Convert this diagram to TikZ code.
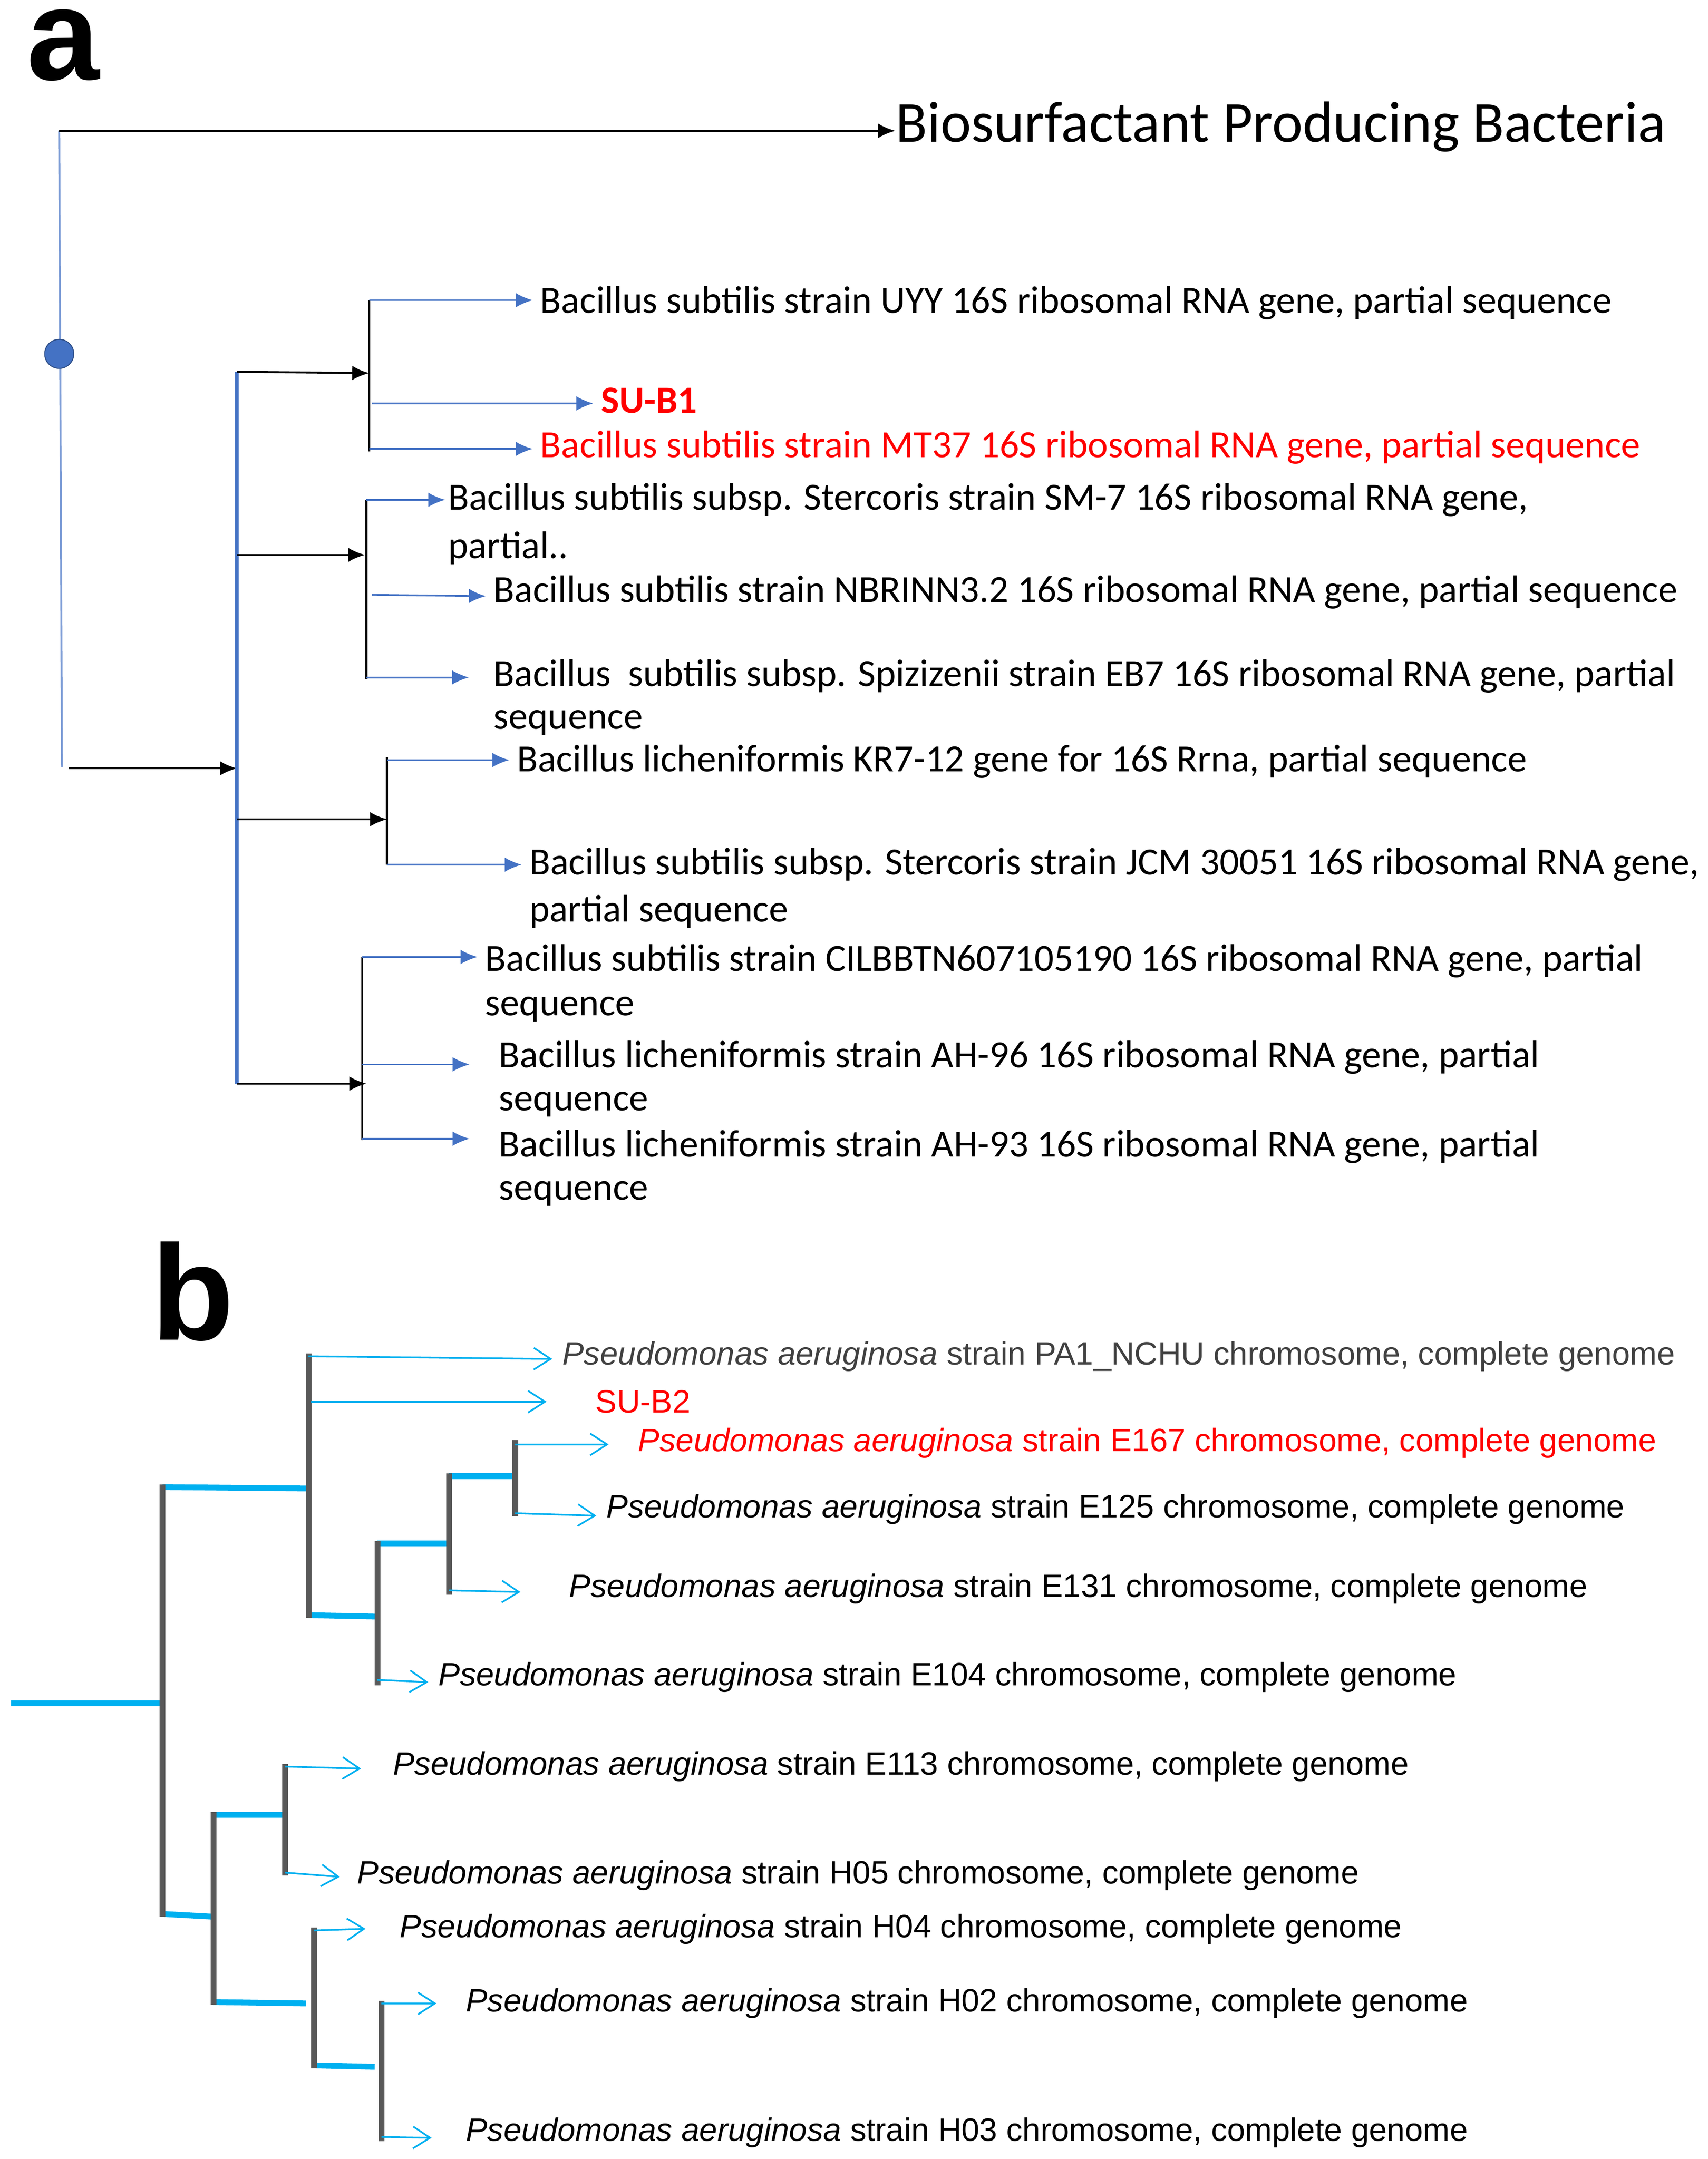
\documentclass[tikz,border=0pt]{standalone}
\usepackage{fontspec}
\setmainfont{Carlito}
\newfontfamily\arial{Liberation Sans}
\usetikzlibrary{arrows.meta}
\definecolor{ablue}{HTML}{4472C4}
\definecolor{bblue}{HTML}{00B0F0}
\definecolor{bgray}{HTML}{595959}
\definecolor{tgray}{HTML}{404040}
\begin{document}
\begin{tikzpicture}[x=0.02cm,y=-0.02cm,
 lbl/.style={anchor=west,inner sep=0pt,font=\fontsize{15.9}{18}\selectfont},
 blbl/.style={anchor=west,inner sep=0pt,font=\arial\fontsize{13.35}{15}\selectfont},
 aleaf/.style={ablue,line width=0.7pt,-{Latex[length=7pt,width=6pt]},shorten >=3pt},
 akey/.style={black,line width=0.8pt,-{Latex[length=7pt,width=6pt]}},
 bleaf/.style={bblue,line width=0.7pt,-{Straight Barb[length=7pt,width=9pt]},shorten >=4pt},
 gv/.style={bgray,line width=2.4pt},
 bh/.style={bblue,line width=2.4pt}]
\useasboundingbox (0,0) rectangle (1240,1568);
% labels
\node[font=\arial\bfseries\fontsize{54}{60}\selectfont,anchor=base,inner sep=0pt] (la) at (46,58) {a};
\node[font=\arial\bfseries\fontsize{56}{60}\selectfont,anchor=center] (lb) at (140,938) {b};
% panel a
\coordinate (r0) at (43,95); \coordinate (r1) at (45,557);
\draw[ablue!70,line width=0.8pt] (r0) -- (r1);
\node[circle,fill=ablue,draw=ablue!70!black,inner sep=0pt,minimum size=12pt] (dot) at (43,257) {};
\node[anchor=west,inner sep=0pt,font=\fontsize{24}{28}\selectfont] (title) at (650,92) {Biosurfactant Producing Bacteria};
\draw[akey] (r0) -- (title.west|-r0);
\coordinate (s0) at (50,558); \coordinate (bv) at (172,558);
\draw[akey] (s0) -- (bv);
\coordinate (bt) at (172,270); \coordinate (bb) at (172,787);
\draw[ablue,line width=1.6pt] (bt) -- (bb);
\coordinate (g1) at (268,271); \coordinate (g2) at (265,403); \coordinate (g3) at (281,595); \coordinate (g4) at (266,787);
\draw[akey] (bt) -- (g1); \draw[akey] (172,403) -- (g2); \draw[akey] (172,595) -- (g3); \draw[akey] (bb) -- (g4);
% group1
\draw[black,line width=0.9pt] (268,218) -- (268,328);
\node[lbl] (t1) at (392,220) {Bacillus subtilis strain UYY 16S ribosomal RNA gene, partial sequence};
\node[lbl,text=red,font=\bfseries\fontsize{15.9}{18}\selectfont] (t2) at (436,291) {SU-B1};
\node[lbl,text=red] (t3) at (392,325) {Bacillus subtilis strain MT37 16S ribosomal RNA gene, partial sequence};
\draw[aleaf] (268,218) -- (t1.west|-268,218);
\draw[aleaf] (270,293) -- (t2.west|-270,293);
\draw[aleaf] (268,326) -- (t3.west|-268,326);
% group2
\draw[black,line width=0.9pt] (266,363) -- (266,493);
\node[lbl] (t4) at (325,363) {Bacillus subtilis subsp. Stercoris strain SM-7 16S ribosomal RNA gene,};
\node[lbl] (t4b) at (325,398) {partial..};
\node[lbl] (t5) at (358,430) {Bacillus subtilis strain NBRINN3.2 16S ribosomal RNA gene, partial sequence};
\node[lbl] (t6) at (358,491) {Bacillus\ \ subtilis subsp. Spizizenii strain EB7 16S ribosomal RNA gene, partial};
\node[lbl] (t6b) at (358,525) {sequence};
\draw[aleaf,shorten >=1pt] (266,363) -- (t4.west|-266,363);
\draw[aleaf] (270,432) -- (t5.west|-270,433);
\draw[aleaf,shorten >=10pt] (266,492) -- (t6.west|-266,492);
% group3
\draw[black,line width=0.9pt] (281,550) -- (281,628);
\node[lbl] (t7) at (375,553) {Bacillus licheniformis KR7-12 gene for 16S Rrna, partial sequence};
\node[lbl] (t8) at (384,628) {Bacillus subtilis subsp. Stercoris strain JCM 30051 16S ribosomal RNA gene,};
\node[lbl] (t8b) at (384,662) {partial sequence};
\draw[aleaf] (281,552) -- (t7.west|-281,552);
\draw[aleaf] (281,628) -- (t8.west|-281,628);
% group4
\draw[black,line width=0.9pt] (263,695) -- (263,828);
\node[lbl] (t9) at (352,698) {Bacillus subtilis strain CILBBTN607105190 16S ribosomal RNA gene, partial};
\node[lbl] (t9b) at (352,733) {sequence};
\node[lbl] (t10) at (362,768) {Bacillus licheniformis strain AH-96 16S ribosomal RNA gene, partial};
\node[lbl] (t10b) at (362,802) {sequence};
\node[lbl] (t11) at (362,833) {Bacillus licheniformis strain AH-93 16S ribosomal RNA gene, partial};
\node[lbl] (t11b) at (362,867) {sequence};
\draw[aleaf] (263,695) -- (t9.west|-263,695);
\draw[aleaf,shorten >=12pt] (263,773) -- (t10.west|-263,773);
\draw[aleaf,shorten >=12pt] (263,827) -- (t11.west|-263,827);
% panel b
\newcommand{\pa}{\textit{Pseudomonas aeruginosa}}
\draw[bh] (8,1237) -- (118,1237);
\draw[bh] (118,1080) -- (222,1081);
\draw[bh] (118,1390) -- (155,1392);
\draw[bh] (224,1173) -- (272,1174);
\draw[bh] (274,1121) -- (326,1121);
\draw[bh] (326,1072) -- (373,1072);
\draw[bh] (155,1318) -- (205,1318);
\draw[bh] (155,1454) -- (222,1455);
\draw[bh] (228,1500) -- (272,1501);
\draw[gv] (118,1078) -- (118,1392);
\draw[gv] (224,983) -- (224,1175);
\draw[gv] (274,1119) -- (274,1224);
\draw[gv] (326,1070) -- (326,1158);
\draw[gv] (374,1046) -- (374,1101);
\draw[gv] (155,1316) -- (155,1456);
\draw[gv] (207,1281) -- (207,1362);
\draw[gv] (228,1400) -- (228,1502);
\draw[gv] (277,1453) -- (277,1555);
\node[blbl,text=tgray] (p1) at (408,985) {\pa{} strain PA1\_NCHU chromosome, complete genome};
\node[blbl,text=red] (p2) at (432,1018) {SU-B2};
\node[blbl,text=red] (p3) at (463,1048) {\pa{} strain E167 chromosome, complete genome};
\node[blbl] (p4) at (440,1096) {\pa{} strain E125 chromosome, complete genome};
\node[blbl] (p5) at (413,1154) {\pa{} strain E131 chromosome, complete genome};
\node[blbl] (p6) at (318,1218) {\pa{} strain E104 chromosome, complete genome};
\node[blbl] (p7) at (285,1283) {\pa{} strain E113 chromosome, complete genome};
\node[blbl] (p8) at (259,1362) {\pa{} strain H05 chromosome, complete genome};
\node[blbl] (p9) at (290,1401) {\pa{} strain H04 chromosome, complete genome};
\node[blbl] (p10) at (338,1455) {\pa{} strain H02 chromosome, complete genome};
\node[blbl] (p11) at (338,1549) {\pa{} strain H03 chromosome, complete genome};
\draw[bleaf] (224,985) -- (p1.west|-224,987);
\draw[bleaf,shorten >=20pt] (226,1018) -- (p2.west|-226,1018);
\draw[bleaf,shorten >=12pt] (374,1049) -- (p3.west|-374,1049);
\draw[bleaf] (374,1099) -- (p4.west|-374,1101);
\draw[bleaf,shorten >=20pt] (326,1155) -- (p5.west|-326,1157);
\draw[bleaf] (274,1220) -- (p6.west|-274,1222);
\draw[bleaf,shorten >=13pt] (207,1283) -- (p7.west|-207,1285);
\draw[bleaf,shorten >=7pt] (207,1360) -- (p8.west|-207,1364);
\draw[bleaf,shorten >=14pt] (228,1402) -- (p9.west|-228,1400);
\draw[bleaf,shorten >=12pt] (277,1455) -- (p10.west|-277,1455);
\draw[bleaf,shorten >=14pt] (277,1552) -- (p11.west|-277,1553);
\end{tikzpicture}
\end{document}
